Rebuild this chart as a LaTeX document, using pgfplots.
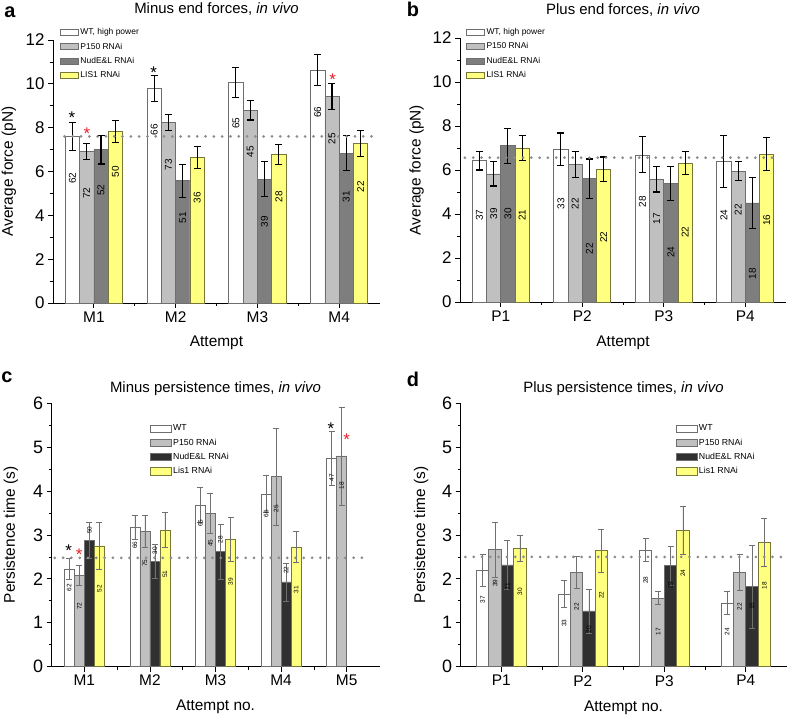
\documentclass[border=0pt]{standalone}
\usepackage{pgfplots}
\pgfplotsset{compat=1.18}
\usepackage{pgfplotstable}
\usepackage{fontspec}
\setmainfont{Liberation Sans}
\definecolor{cp}{HTML}{C0C0C0}
\definecolor{cn}{HTML}{7E7E7E}
\definecolor{cnd}{HTML}{303030}
\definecolor{cl}{HTML}{FFFF80}
\definecolor{cedge}{HTML}{6E6E6E}
\definecolor{cledge}{HTML}{77773A}
\definecolor{cdot}{HTML}{8C8C8C}
\definecolor{cstar}{HTML}{E8202A}
\definecolor{cerr}{HTML}{707070}

\pgfplotstableread{
x wt wte p pe n ne l le
0 7.60 0.65 6.90 0.37 7.00 0.66 7.82 0.50
1 9.80 0.60 8.25 0.36 5.58 0.75 6.63 0.50
2 10.07 0.68 8.80 0.45 5.65 0.80 6.78 0.47
3 10.62 0.70 9.42 0.60 6.83 0.80 7.29 0.60
}\dataA
\pgfplotstableread{
x wt wte p pe n ne l le
0 6.43 0.43 5.82 0.55 7.10 0.80 7.00 0.56
1 6.95 0.73 6.26 0.60 5.60 0.90 6.03 0.56
2 6.69 0.82 5.58 0.58 5.38 0.77 6.30 0.52
3 6.40 1.18 5.95 0.42 4.50 1.17 6.72 0.75
}\dataB
\pgfplotstableread{
x wt wte p pe
0 2.22 0.24 2.08 0.22
1 3.17 0.27 3.08 0.36
2 3.68 0.40 3.49 0.46
3 3.93 0.42 4.33 1.10
4 4.75 0.62 4.80 1.12
}\dataCa
\pgfplotstableread{
x n ne l le
0 2.87 0.41 2.75 0.53
1 2.40 0.38 3.11 0.40
2 2.62 0.63 2.91 0.50
3 1.93 0.43 2.73 0.35
}\dataCb
\pgfplotstableread{
x wt wte p pe n ne l le
0 2.20 0.36 2.67 0.63 2.32 0.56 2.70 0.30
1 1.66 0.30 2.15 0.36 1.27 0.50 2.65 0.49
2 2.66 0.26 1.56 0.15 2.30 0.44 3.11 0.54
3 1.45 0.26 2.15 0.42 1.82 0.94 2.83 0.55
}\dataD

\newcommand\swA[2]{\addlegendimage{legend image code/.code={\draw[fill=#1,draw=#2,line width=0.6bp] (0bp,-3bp) rectangle (18bp,3bp);}}}
\newcommand\swC[2]{\addlegendimage{legend image code/.code={\draw[fill=#1,draw=#2,line width=0.6bp] (0bp,-3.7bp) rectangle (21bp,3.7bp);}}}

\pgfplotsset{
  panel/.style={scale only axis, clip=false, ybar,
    axis x line*=bottom, axis y line*=left,
    axis line style={line width=0.8bp, black},
    tick style={line width=0.8bp, black},
    tick align=outside, major tick length=5bp, minor tick length=3bp,
    /pgf/number format/assume math mode=true,
    legend cell align=left,
    legend style={draw=none, fill=none, inner sep=0pt, row sep=3.8bp,
      nodes={inner sep=1.5bp}},
  },
  barsAB/.style={fill=#1, draw=cedge, line width=0.6bp,
    error bars/y dir=both, error bars/y explicit,
    error bars/error bar style={black, line width=1.1bp},
    error bars/error mark options={rotate=90, black, line width=1.1bp, mark size=3.5bp}},
  barsCD/.style={fill=#1, draw=cedge, line width=0.6bp,
    error bars/y dir=both, error bars/y explicit,
    error bars/error bar style={cerr, line width=0.6bp},
    error bars/error mark options={rotate=90, cerr, line width=0.6bp, mark size=3bp}},
}
\tikzset{
  lblA/.style={rotate=90, font=\fontsize{10}{10}\selectfont, inner sep=0pt},
  lblC/.style={rotate=90, font=\fontsize{6.5}{6.5}\selectfont, inner sep=0pt},
  starb/.style={font=\fontsize{17}{17}\selectfont, inner sep=0pt, yshift=-3bp},
  dotline/.style={cdot, line width=3bp, line cap=round, dash pattern=on 0bp off 8.3bp},
}

\begin{document}
\begin{tikzpicture}[x=1bp,y=1bp]
\useasboundingbox (0,0) rectangle (788,716);

% ---------------- panel a ----------------
\begin{axis}[panel, at={(53bp,413bp)}, anchor=south west, bar width=0.175,
  width=327bp, height=263bp, xmin=-0.5, xmax=3.5, ymin=0, ymax=12,
  xtick={0,1,2,3}, xticklabels={M1,M2,M3,M4}, minor xtick={0.5,1.5,2.5},
  ytick={0,2,...,12}, minor ytick={1,3,...,11},
  yticklabel style={font=\fontsize{17}{17}\selectfont},
  xticklabel style={font=\fontsize{15.5}{16}\selectfont},
  xlabel={Attempt}, ylabel={Average force (pN)},
  label style={font=\fontsize{15.5}{16}\selectfont},
  xlabel style={at={(axis description cs:0.5,-0.153)}, anchor=center},
  ylabel style={at={(axis description cs:-0.1346,0.5)}, anchor=center},
  title={Minus end forces, \textit{in vivo}},
  title style={font=\fontsize{15}{15}\selectfont, at={(axis description cs:0.5,1)}, anchor=center, yshift=25bp},
  legend style={at={(axis description cs:0.022,1.05)}, anchor=north west, font=\fontsize{8.5}{9}\selectfont},
]
\addplot[barsAB=white, bar shift=-0.2625, forget plot] table[x=x,y=wt,y error=wte]{\dataA};
\addplot[barsAB=cp, bar shift=-0.0875, forget plot] table[x=x,y=p,y error=pe]{\dataA};
\addplot[barsAB=cn, bar shift=0.0875, forget plot] table[x=x,y=n,y error=ne]{\dataA};
\addplot[barsAB=cl, draw=cledge, bar shift=0.2625, forget plot] table[x=x,y=l,y error=le]{\dataA};
\addplot[sharp plot, dotline, forget plot] coordinates {(-0.36,7.6) (3.4,7.6)};
\swA{white}{cedge}\addlegendentry{WT, high power}
\swA{cp}{cedge}\addlegendentry{P150 RNAi}
\swA{cn}{cedge}\addlegendentry{NudE\&L RNAi}
\swA{cl}{cledge}\addlegendentry{LIS1 RNAi}
\node[lblA] at (axis cs:-0.2625,5.7) {62};
\node[lblA] at (axis cs:-0.0875,5.0) {72};
\node[lblA] at (axis cs:0.0875,5.15) {52};
\node[lblA] at (axis cs:0.2625,6.0) {50};
\node[lblA] at (axis cs:0.7375,7.9) {66};
\node[lblA] at (axis cs:0.9125,6.3) {73};
\node[lblA] at (axis cs:1.0875,3.9) {51};
\node[lblA] at (axis cs:1.2625,4.8) {36};
\node[lblA] at (axis cs:1.7375,8.2) {65};
\node[lblA] at (axis cs:1.9125,6.9) {45};
\node[lblA] at (axis cs:2.0875,3.7) {39};
\node[lblA] at (axis cs:2.2625,4.85) {28};
\node[lblA] at (axis cs:2.7375,8.7) {66};
\node[lblA] at (axis cs:2.9125,7.5) {25};
\node[lblA] at (axis cs:3.0875,4.85) {31};
\node[lblA] at (axis cs:3.2625,5.3) {22};
\node[starb] at (axis cs:-0.27,8.58) {*};
\node[starb, text=cstar] at (axis cs:-0.085,7.85) {*};
\node[starb] at (axis cs:0.73,10.64) {*};
\node[starb, text=cstar] at (axis cs:2.92,10.33) {*};
\end{axis}

% ---------------- panel b ----------------
\begin{axis}[panel, at={(460bp,414bp)}, anchor=south west, bar width=0.175,
  width=326bp, height=264bp, xmin=-0.5, xmax=3.5, ymin=0, ymax=12,
  xtick={0,1,2,3}, xticklabels={P1,P2,P3,P4}, minor xtick={0.5,1.5,2.5},
  ytick={0,2,...,12}, minor ytick={1,3,...,11},
  yticklabel style={font=\fontsize{17}{17}\selectfont},
  xticklabel style={font=\fontsize{15.5}{16}\selectfont},
  xlabel={Attempt}, ylabel={Average force (pN)},
  label style={font=\fontsize{15.5}{16}\selectfont},
  xlabel style={at={(axis description cs:0.5,-0.156)}, anchor=center},
  ylabel style={at={(axis description cs:-0.1334,0.5)}, anchor=center},
  title={Plus end forces, \textit{in vivo}},
  title style={font=\fontsize{15}{15}\selectfont, at={(axis description cs:0.5,1)}, anchor=center, yshift=22bp},
  legend style={at={(axis description cs:0.019,1.043)}, anchor=north west, font=\fontsize{8.5}{9}\selectfont},
]
\addplot[barsAB=white, bar shift=-0.2625, forget plot] table[x=x,y=wt,y error=wte]{\dataB};
\addplot[barsAB=cp, bar shift=-0.0875, forget plot] table[x=x,y=p,y error=pe]{\dataB};
\addplot[barsAB=cn, bar shift=0.0875, forget plot] table[x=x,y=n,y error=ne]{\dataB};
\addplot[barsAB=cl, draw=cledge, bar shift=0.2625, forget plot] table[x=x,y=l,y error=le]{\dataB};
\addplot[sharp plot, dotline, forget plot] coordinates {(-0.44,6.56) (3.38,6.56)};
\swA{white}{cedge}\addlegendentry{WT, high power}
\swA{cp}{cedge}\addlegendentry{P150 RNAi}
\swA{cn}{cedge}\addlegendentry{NudE\&L RNAi}
\swA{cl}{cledge}\addlegendentry{LIS1 RNAi}
\node[lblA] at (axis cs:-0.2625,3.94) {37};
\node[lblA] at (axis cs:-0.0875,4.02) {39};
\node[lblA] at (axis cs:0.0875,4.02) {30};
\node[lblA] at (axis cs:0.2625,3.94) {21};
\node[lblA] at (axis cs:0.7375,4.47) {33};
\node[lblA] at (axis cs:0.9125,4.47) {22};
\node[lblA] at (axis cs:1.0875,2.43) {22};
\node[lblA] at (axis cs:1.2625,2.95) {22};
\node[lblA] at (axis cs:1.7375,4.55) {28};
\node[lblA] at (axis cs:1.9125,3.79) {17};
\node[lblA] at (axis cs:2.0875,2.27) {24};
\node[lblA] at (axis cs:2.2625,3.18) {22};
\node[lblA] at (axis cs:2.7375,3.94) {24};
\node[lblA] at (axis cs:2.9125,4.2) {22};
\node[lblA] at (axis cs:3.0875,1.29) {18};
\node[lblA] at (axis cs:3.2625,3.71) {16};
\end{axis}

% ---------------- panel c ----------------
\begin{axis}[panel, at={(51.5bp,49.3bp)}, anchor=south west, bar width=0.153,
  width=328bp, height=263.4bp, xmin=-0.5, xmax=4.5, ymin=0, ymax=6,
  xtick={0,1,2,3,4}, xticklabels={M1,M2,M3,M4,M5}, minor xtick={0.5,1.5,2.5,3.5},
  ytick={0,1,...,6}, minor ytick={0.5,1.5,...,5.5},
  yticklabel style={font=\fontsize{18}{18}\selectfont},
  xticklabel style={font=\fontsize{15.5}{16}\selectfont},
  xlabel={Attempt no.}, ylabel={Persistence time (s)},
  label style={font=\fontsize{15.5}{16}\selectfont},
  xlabel style={at={(axis description cs:0.5,-0.152)}, anchor=center},
  ylabel style={at={(axis description cs:-0.1235,0.5)}, anchor=center},
  title={Minus persistence times, \textit{in vivo}},
  title style={font=\fontsize{15}{15}\selectfont, at={(axis description cs:0.5,1)}, anchor=center, yshift=9bp},
  legend style={at={(axis description cs:0.3,0.925)}, anchor=north west, font=\fontsize{8.8}{9}\selectfont, row sep=3.5bp},
]
\addplot[barsCD=white, bar shift=-0.2295, forget plot] table[x=x,y=wt,y error=wte]{\dataCa};
\addplot[barsCD=cp, bar shift=-0.0765, forget plot] table[x=x,y=p,y error=pe]{\dataCa};
\addplot[barsCD=cnd, bar shift=0.0765, forget plot] table[x=x,y=n,y error=ne]{\dataCb};
\addplot[barsCD=cl, draw=cledge, bar shift=0.2295, forget plot] table[x=x,y=l,y error=le]{\dataCb};
\addplot[sharp plot, dotline, forget plot] coordinates {(-0.45,2.48) (4.35,2.48)};
\swC{white}{cedge}\addlegendentry{WT}
\swC{cp}{cedge}\addlegendentry{P150 RNAi}
\swC{cnd}{cedge}\addlegendentry{NudE\&L RNAi}
\swC{cl}{cledge}\addlegendentry{Lis1 RNAi}
\node[lblC] at (axis cs:-0.2295,1.8) {62};
\node[lblC] at (axis cs:-0.0765,1.38) {72};
\node[lblC] at (axis cs:0.0765,3.11) {50};
\node[lblC] at (axis cs:0.2295,1.77) {52};
\node[lblC] at (axis cs:0.7705,2.77) {66};
\node[lblC] at (axis cs:0.9235,2.36) {75};
\node[lblC] at (axis cs:1.0765,2.64) {30};
\node[lblC] at (axis cs:1.2295,2.11) {51};
\node[lblC] at (axis cs:1.7705,3.27) {65};
\node[lblC] at (axis cs:1.9235,2.81) {45};
\node[lblC] at (axis cs:2.0765,2.89) {28};
\node[lblC] at (axis cs:2.2295,1.94) {39};
\node[lblC] at (axis cs:2.7705,3.49) {66};
\node[lblC] at (axis cs:2.9235,3.6) {25};
\node[lblC] at (axis cs:3.0765,2.2) {22};
\node[lblC] at (axis cs:3.2295,1.75) {31};
\node[lblC] at (axis cs:3.7705,4.31) {47};
\node[lblC] at (axis cs:3.9235,4.12) {18};
\node[starb] at (axis cs:-0.24,2.7) {*};
\node[starb, text=cstar] at (axis cs:-0.08,2.62) {*};
\node[starb] at (axis cs:3.76,5.5) {*};
\node[starb, text=cstar] at (axis cs:4.0,5.24) {*};
\end{axis}

% ---------------- panel d ----------------
\begin{axis}[panel, at={(460.5bp,49.3bp)}, anchor=south west, bar width=0.153,
  width=326bp, height=263.4bp, xmin=-0.5, xmax=3.5, ymin=0, ymax=6,
  xtick={0,1,2,3}, xticklabels={P1,P2,P3,P4}, minor xtick={0.5,1.5,2.5},
  ytick={0,1,...,6}, minor ytick={0.5,1.5,...,5.5},
  yticklabel style={font=\fontsize{18}{18}\selectfont},
  xticklabel style={font=\fontsize{15.5}{16}\selectfont},
  xlabel={Attempt no.}, ylabel={Persistence time (s)},
  label style={font=\fontsize{15.5}{16}\selectfont},
  xlabel style={at={(axis description cs:0.5,-0.157)}, anchor=center},
  ylabel style={at={(axis description cs:-0.121,0.5)}, anchor=center},
  title={Plus persistence times, \textit{in vivo}},
  title style={font=\fontsize{15}{15}\selectfont, at={(axis description cs:0.5,1)}, anchor=center, yshift=9bp},
  legend style={at={(axis description cs:0.66,0.925)}, anchor=north west, font=\fontsize{8.8}{9}\selectfont, row sep=3.5bp},
]
\addplot[barsCD=white, bar shift=-0.2295, forget plot] table[x=x,y=wt,y error=wte]{\dataD};
\addplot[barsCD=cp, bar shift=-0.0765, forget plot] table[x=x,y=p,y error=pe]{\dataD};
\addplot[barsCD=cnd, bar shift=0.0765, forget plot] table[x=x,y=n,y error=ne]{\dataD};
\addplot[barsCD=cl, draw=cledge, bar shift=0.2295, forget plot] table[x=x,y=l,y error=le]{\dataD};
\addplot[sharp plot, dotline, forget plot] coordinates {(-0.44,2.5) (3.46,2.5)};
\swC{white}{cedge}\addlegendentry{WT}
\swC{cp}{cedge}\addlegendentry{P150 RNAi}
\swC{cnd}{cedge}\addlegendentry{NudE\&L RNAi}
\swC{cl}{cledge}\addlegendentry{Lis1 RNAi}
\node[lblC] at (axis cs:-0.2295,1.53) {37};
\node[lblC] at (axis cs:-0.0765,1.9) {39};
\node[lblC] at (axis cs:0.0765,1.82) {21};
\node[lblC] at (axis cs:0.2295,1.71) {30};
\node[lblC] at (axis cs:0.7705,0.99) {33};
\node[lblC] at (axis cs:0.9235,1.37) {22};
\node[lblC] at (axis cs:1.0765,0.84) {20};
\node[lblC] at (axis cs:1.2295,1.63) {22};
\node[lblC] at (axis cs:1.7705,1.97) {28};
\node[lblC] at (axis cs:1.9235,0.8) {17};
\node[lblC] at (axis cs:2.0765,1.86) {29};
\node[lblC] at (axis cs:2.2295,2.13) {24};
\node[lblC] at (axis cs:2.7705,0.8) {24};
\node[lblC] at (axis cs:2.9235,1.37) {22};
\node[lblC] at (axis cs:3.0765,1.38) {16};
\node[lblC] at (axis cs:3.2295,1.84) {18};
\end{axis}

% panel letters
\node[font=\bfseries\fontsize{20}{20}\selectfont] at (10,704) {a};
\node[font=\bfseries\fontsize{20}{20}\selectfont] at (413,707) {b};
\node[font=\bfseries\fontsize{20}{20}\selectfont] at (7,339) {c};
\node[font=\bfseries\fontsize{20}{20}\selectfont] at (413,337) {d};
\end{tikzpicture}
\end{document}
